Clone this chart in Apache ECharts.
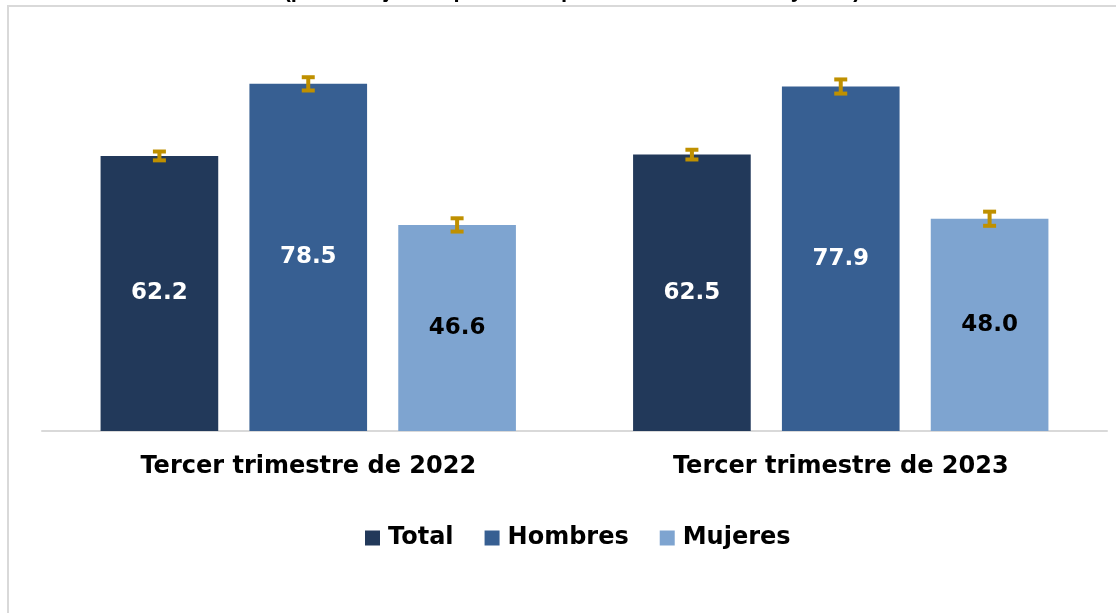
<!DOCTYPE html>
<html><head><meta charset="utf-8">
<script src="https://cdn.jsdelivr.net/npm/echarts@6/dist/echarts.min.js"></script>
<style>html,body{margin:0;padding:0;background:#fff}#c{width:1116px;height:613px}</style>
</head><body><div id="c"></div>
<script>
const categories = ['Tercer trimestre de 2022', 'Tercer trimestre de 2023'];
const seriesNames = ['Total', 'Hombres', 'Mujeres'];
const totalValues = [62.2, 62.5];
const hombresValues = [78.5, 77.9];
const mujeresValues = [46.6, 48.0];
const totalErrors = [1.0, 1.1];
const hombresErrors = [1.5, 1.6];
const mujeresErrors = [1.5, 1.6];
const subtitleText = '(porcentajes respecto a la población de 15 años y más)';

const colors = ['#22395A', '#375F92', '#7EA4D0'];
const labelColors = ['#ffffff', '#ffffff', '#000000'];
const values = [totalValues, hombresValues, mujeresValues];
const errors = [totalErrors, hombresErrors, mujeresErrors];
const CAT_GAP = 0.22, BAR_GAP = 0.265;
const FONT = 'DejaVu Sans';

const chart = echarts.init(document.getElementById('c'));
const series = [];
values.forEach((vals, i) => {
  series.push({
    name: seriesNames[i], type: 'bar', data: vals,
    barGap: (BAR_GAP * 100) + '%', barCategoryGap: (CAT_GAP * 100) + '%',
    itemStyle: { color: colors[i] },
    label: { show: true, position: 'inside', formatter: p => p.value.toFixed(1),
      color: labelColors[i], fontSize: 23, fontWeight: 'bold', fontFamily: FONT }
  });
});
values.forEach((vals, i) => {
  series.push({
    type: 'custom', name: seriesNames[i] + ' err', silent: true, z: 10,
    data: vals.map((v, k) => [k, v, errors[i][k]]),
    renderItem: (params, api) => {
      const k = api.value(0), v = api.value(1), e = api.value(2);
      const band = api.size([1, 0])[0];
      const bw = band * (1 - CAT_GAP) / (3 + 2 * BAR_GAP);
      const off = bw * (1 + BAR_GAP) * (i - 1);
      const hi = api.coord([k, v + e]);
      const lo = api.coord([k, v - e]);
      const x = hi[0] + off;
      const capW = 13, t = 4;
      const st = { fill: '#BF9000' };
      return { type: 'group', children: [
        { type: 'rect', shape: { x: x - capW / 2, y: hi[1] - t / 2, width: capW, height: t }, style: st },
        { type: 'rect', shape: { x: x - capW / 2, y: lo[1] - t / 2, width: capW, height: t }, style: st },
        { type: 'rect', shape: { x: x - 2, y: hi[1], width: 4, height: lo[1] - hi[1] }, style: st }
      ]};
    }
  });
});

chart.setOption({
  animation: false,
  textStyle: { fontFamily: FONT },
  grid: { left: 42, right: 9, top: 33, bottom: 182 },
  xAxis: { type: 'category', data: categories,
    axisLine: { lineStyle: { color: '#D9D9D9', width: 2 } }, axisTick: { show: false },
    axisLabel: { color: '#000', fontSize: 24, fontWeight: 'bold', margin: 24, fontFamily: FONT } },
  yAxis: { type: 'value', min: 0, max: 90, show: false, splitLine: { show: false } },
  legend: { data: seriesNames, bottom: 58, left: 360, itemWidth: 15, itemHeight: 15, itemGap: 31,
    icon: 'rect', textStyle: { fontSize: 24, fontWeight: 'bold', color: '#000', fontFamily: FONT, padding: [0, 0, 0, 3] } },
  graphic: [
    { type: 'rect', shape: { x: 8, y: 5, width: 1108, height: 2 }, style: { fill: '#D9D9D9' } },
    { type: 'rect', shape: { x: 7, y: 5, width: 2, height: 608 }, style: { fill: '#D9D9D9' } },
    { type: 'text', x: 572, y: 2, style: { text: subtitleText, font: 'bold 22px Liberation Sans', fill: '#000',
      textAlign: 'center', textVerticalAlign: 'bottom' } }
  ],
  series: series
});
</script></body></html>
